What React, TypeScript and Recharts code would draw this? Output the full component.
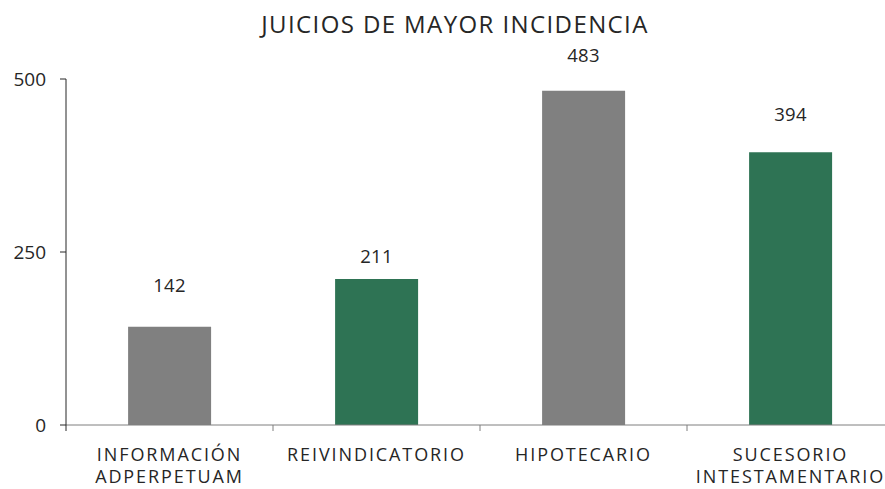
import { Bar, BarChart, Cell, LabelList, XAxis, YAxis } from "recharts";

const categories = [
  "INFORMACIÓN ADPERPETUAM",
  "REIVINDICATORIO",
  "HIPOTECARIO",
  "SUCESORIO INTESTAMENTARIO",
];
const values = [142, 211, 483, 394];
const yTicks = [0, 250, 500];

const GRAY = "#808080";
const GREEN = "#2E7354";
const TEXT = "#262626";
const FONT = "'Open Sans', sans-serif";
const labelGaps = [31, 12, 25, 27];

const data = categories.map((name, i) => ({ name, value: values[i] }));

const CHART_W = 900;
const PLOT_LEFT = 66;
const BAND = (CHART_W - PLOT_LEFT - 6) / categories.length;

function CategoryTick(props: any) {
  const { x, y, payload } = props;
  const words = String(payload.value).split(" ");
  return (
    <g>
      <line x1={x + BAND / 2} x2={x + BAND / 2} y1={y - 8} y2={y - 2} stroke="#7f7f7f" />
      {payload.index === 0 && (
        <line x1={x - BAND / 2} x2={x - BAND / 2} y1={y - 8} y2={y - 2} stroke="#262626" />
      )}
      <text
        x={x}
        y={y}
        textAnchor="middle"
        fill={TEXT}
        fontSize={18}
        fontFamily={FONT}
        letterSpacing={1.9}
      >
        {words.map((w: string, i: number) => (
          <tspan key={i} x={x} dy={i === 0 ? 28 : 22}>
            {w}
          </tspan>
        ))}
      </text>
    </g>
  );
}

function ValueLabel(props: any) {
  const { x, y, width, value, index } = props;
  return (
    <text
      x={x + width / 2}
      y={y - labelGaps[index] - 4}
      textAnchor="middle"
      fill={TEXT}
      fontSize={18.5}
      fontFamily={FONT}
      letterSpacing={0.4}
    >
      {value}
    </text>
  );
}

export default function App() {
  return (
    <div
      style={{
        position: "fixed",
        left: 0,
        top: 0,
        width: 885,
        height: 489,
        overflow: "hidden",
        background: "#fff",
      }}
    >
      <BarChart
        width={CHART_W}
        height={489}
        data={data}
        margin={{ top: 79, right: 6, bottom: 0, left: 0 }}
        barCategoryGap="30%"
      >
        <text
          x={455}
          y={33}
          textAnchor="middle"
          fill={TEXT}
          fontSize={24}
          fontFamily={FONT}
          letterSpacing={1.4}
        >
          JUICIOS DE MAYOR INCIDENCIA
        </text>
        <XAxis
          dataKey="name"
          height={64}
          stroke="#7f7f7f"
          tickLine={false}
          interval={0}
          tick={<CategoryTick />}
        />
        <YAxis
          width={66}
          domain={[0, 500]}
          ticks={yTicks}
          stroke="#262626"
          tickSize={6}
          tickMargin={14}
          tick={{ fill: TEXT, fontSize: 19, fontFamily: FONT }}
        />
        <Bar dataKey="value" isAnimationActive={false}>
          {data.map((_, i) => (
            <Cell key={i} fill={i % 2 === 0 ? GRAY : GREEN} />
          ))}
          <LabelList dataKey="value" content={<ValueLabel />} />
        </Bar>
      </BarChart>
    </div>
  );
}
